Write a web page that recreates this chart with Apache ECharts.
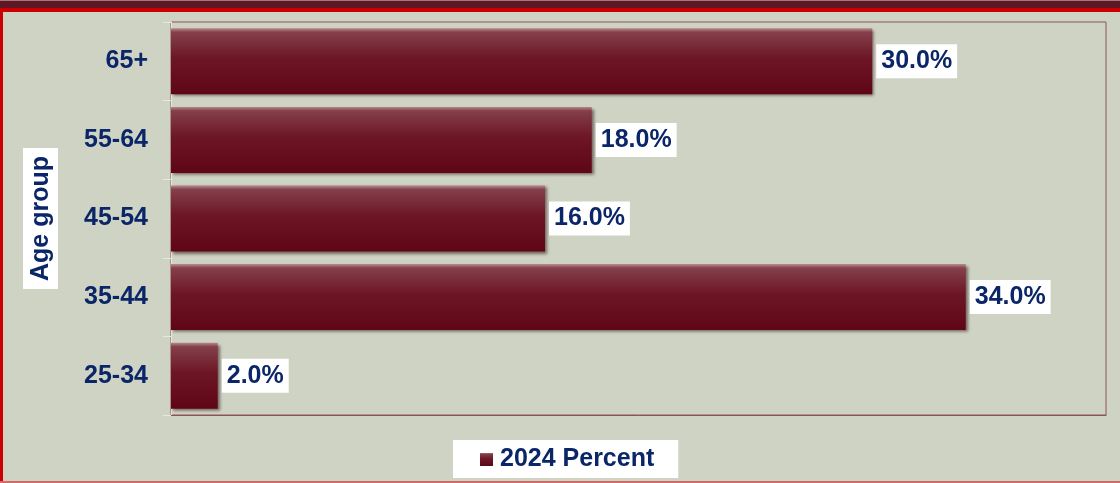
<!DOCTYPE html>
<html>
<head>
<meta charset="utf-8">
<script src="https://cdn.jsdelivr.net/npm/echarts@6/dist/echarts.min.js"></script>
<style>
html,body{margin:0;padding:0;background:#cfd3c4;}
#chart{width:1120px;height:483px;}
</style>
</head>
<body>
<div id="chart"></div>
<script>
const categories = ['25-34', '35-44', '45-54', '55-64', '65+'];
const percentValues = [2.0, 34.0, 16.0, 18.0, 30.0];
const seriesName = '2024 Percent';
const axisTitle = 'Age group';

const chart = echarts.init(document.getElementById('chart'));
const navy = '#0a2668';
const barGradient = new echarts.graphic.LinearGradient(0, 0, 0, 1, [
  { offset: 0, color: '#b78a8f' },
  { offset: 0.06, color: '#84404b' },
  { offset: 0.45, color: '#6d1626' },
  { offset: 1, color: '#5f0616' }
]);

chart.setOption({
  backgroundColor: '#cfd3c4',
  animation: false,
  grid: {
    left: 171, top: 22, right: 14, bottom: 68,
    show: true, borderColor: '#8c5258', borderWidth: 1
  },
  xAxis: {
    type: 'value', min: 0, max: 40,
    axisLabel: { show: false },
    splitLine: { show: false },
    axisTick: { show: false },
    axisLine: { show: true, lineStyle: { color: '#8c5258', width: 1 } }
  },
  yAxis: {
    type: 'category',
    data: categories,
    name: axisTitle,
    nameLocation: 'middle',
    nameRotate: 90,
    nameGap: 113,
    nameTextStyle: {
      fontFamily: 'Liberation Sans, Arial, sans-serif',
      fontSize: 25, fontWeight: 'bold', color: navy,
      backgroundColor: '#ffffff', padding: [6, 8, 4, 8]
    },
    axisLine: { show: true, lineStyle: { color: '#e6e8e0', width: 1 } },
    axisTick: { show: true, length: 8, lineStyle: { color: '#e6e8e0' } },
    axisLabel: {
      margin: 23,
      fontFamily: 'Liberation Sans, Arial, sans-serif',
      fontSize: 25, fontWeight: 'bold', color: navy
    }
  },
  legend: {
    data: [seriesName],
    left: 453, top: 440,
    backgroundColor: '#ffffff',
    padding: [7, 24, 6, 27],
    icon: 'rect', itemWidth: 13, itemHeight: 13, itemGap: 0,
    textStyle: {
      fontFamily: 'Liberation Sans, Arial, sans-serif',
      fontSize: 25, fontWeight: 'bold', color: navy, padding: [0, 0, 0, 2]
    }
  },
  series: [{
    name: seriesName,
    type: 'bar',
    data: percentValues,
    barCategoryGap: '16%',
    itemStyle: {
      color: barGradient,
      shadowColor: 'rgba(40,10,10,0.55)',
      shadowBlur: 3, shadowOffsetX: 2, shadowOffsetY: 2
    },
    label: {
      show: true, position: 'right', distance: 4,
      formatter: p => p.value.toFixed(1) + '%',
      fontFamily: 'Liberation Sans, Arial, sans-serif',
      fontSize: 25, fontWeight: 'bold', color: navy,
      backgroundColor: '#ffffff', padding: [5, 5, 4, 5]
    }
  }],
  graphic: [
    { type: 'rect', shape: { x: 0, y: 0, width: 1120, height: 8 }, style: { fill: '#5e1824' }, silent: true },
    { type: 'rect', shape: { x: 0, y: 0, width: 1120, height: 1 }, style: { fill: '#a07a80' }, silent: true },
    { type: 'rect', shape: { x: 0, y: 8, width: 1120, height: 4 }, style: { fill: '#cc0000' }, silent: true },
    { type: 'rect', shape: { x: 0, y: 8, width: 3, height: 475 }, style: { fill: '#cc0000' }, silent: true },
    { type: 'rect', shape: { x: 0, y: 481, width: 1120, height: 2 }, style: { fill: '#d46a6a' }, silent: true }
  ]
});
</script>
</body>
</html>
